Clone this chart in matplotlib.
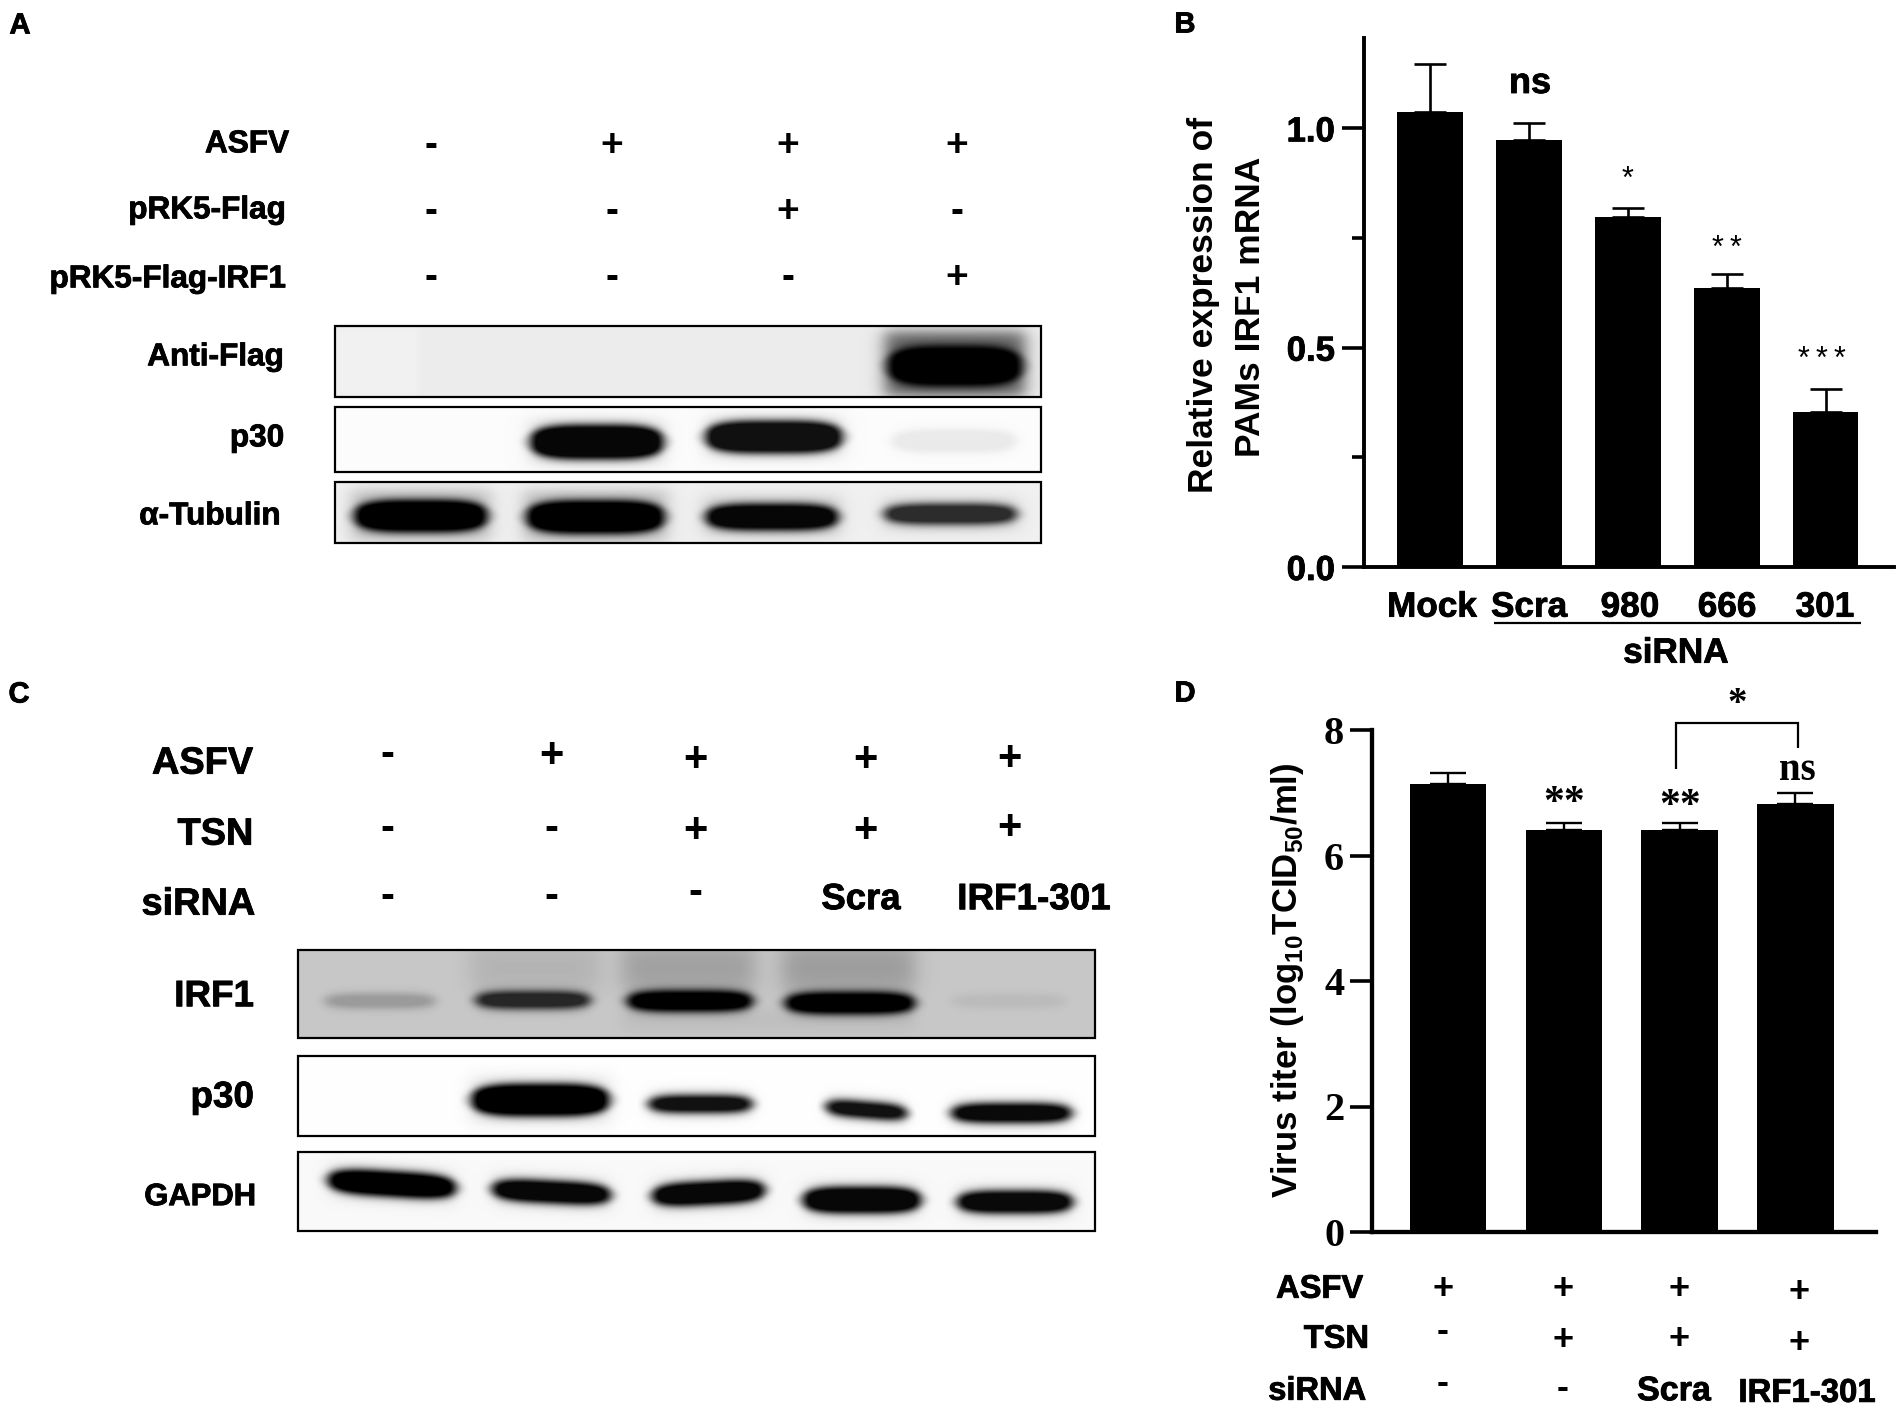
import numpy as np
import matplotlib
matplotlib.use("Agg")
import matplotlib.pyplot as plt
import matplotlib.patheffects as pe
from matplotlib.patches import Rectangle

SANS = "Liberation Sans"
SERIF = "Liberation Serif"
plt.rcParams["font.family"] = [SANS, "DejaVu Sans"]
plt.rcParams["mathtext.fontset"] = "custom"
plt.rcParams["mathtext.bf"] = "Liberation Sans:bold"
plt.rcParams["mathtext.rm"] = "Liberation Sans:bold"

# ---- panel B data
b_labels = ["Mock", "Scra", "980", "666", "301"]
b_values = [1.037, 0.974, 0.798, 0.635, 0.353]
b_err = [0.110, 0.039, 0.020, 0.033, 0.053]
b_sig = ["", "ns", "*", "**", "***"]
b_yticks = [0.0, 0.5, 1.0]
b_minor = [0.25, 0.75]

# ---- panel D data
d_values = [7.14, 6.40, 6.40, 6.82]
d_err = [0.17, 0.11, 0.11, 0.17]
d_yticks = [0, 2, 4, 6, 8]
d_sig = ["", "**", "**", "ns"]

# ---- treatment tables
a_rows = ["ASFV", "pRK5-Flag", "pRK5-Flag-IRF1"]
a_asfv = ["-", "+", "+", "+"]
a_flag = ["-", "-", "+", "-"]
a_irf1 = ["-", "-", "-", "+"]
c_rows = ["ASFV", "TSN", "siRNA"]
c_asfv = ["-", "+", "+", "+", "+"]
c_tsn = ["-", "-", "+", "+", "+"]
c_sirna = ["-", "-", "-", "Scra", "IRF1-301"]
d_rows = ["ASFV", "TSN", "siRNA"]
d_asfv = ["+", "+", "+", "+"]
d_tsn = ["-", "+", "+", "+"]
d_sirna = ["-", "-", "Scra", "IRF1-301"]

# ---- blot band densities per lane (0 = no band, 1 = saturated)
a_flag_density = [0.0, 0.0, 1.0]
a_p30_density = [0.97, 0.93, 0.07]
a_tub_density = [1.0, 1.0, 0.97, 0.80]
c_irf1_density = [0.22, 0.80, 1.0, 1.0, 0.06]
c_p30_density = [1.0, 0.93, 0.93, 0.96]
c_gapdh_density = [1.0, 0.97, 0.97, 0.97, 0.96]

W, H = 1904, 1408
fig = plt.figure(figsize=(W / 100, H / 100), dpi=100, facecolor="white")
HEAVY = [pe.withStroke(linewidth=0.6, foreground="black")]


def px_axes(x0, x1, ytop, ybot, **kw):
    return fig.add_axes([x0 / W, 1 - ybot / H, (x1 - x0) / W, (ybot - ytop) / H], **kw)


ov = px_axes(0, W, 0, H, zorder=5)
ov.patch.set_visible(False)
ov.axis("off")


def T(x, y, s, pt, ha="center", family=SANS, weight="bold", rot=0, color="black"):
    if rot:
        ov.text(x, y, s, fontsize=pt, ha="center", va="center", rotation=90,
                family=family, weight=weight, color=color)
    else:
        t = ov.text(x, y + 0.36 * pt / 0.72, s, fontsize=pt, ha=ha, va="baseline",
                    family=family, weight=weight, color=color)
        if family == SANS:
            t.set_path_effects(HEAVY)


def sign(x, y, s, pt=28):
    off = 0.34 if s == "+" else 0.27
    ov.text(x, y + off * pt / 0.72, s, fontsize=pt, ha="center", va="baseline",
            family=SANS, weight="bold", color="black")


def box(v, a, b, soft):
    return 0.5 * (np.tanh((v - a) / soft) - np.tanh((v - b) / soft))


def blot(x0, x1, y0, y1, bg, bands, extra=()):
    """bands: (density, xa, xb, yc, height, slope, halo_dark, halo_up, halo_down)"""
    xs = np.arange(x0, x1, 1.0) + 0.5
    ys = np.arange(y0, y1, 1.0) + 0.5
    X, Y = np.meshgrid(xs, ys)
    keep = np.ones_like(X)
    for (xa, xb, ya, yb, dk, s) in extra:
        keep *= 1 - dk * box(X, xa, xb, s) * box(Y, ya, yb, s)
    for (d, xa, xb, yc, h, slope, hd, hu, hdn) in bands:
        if d <= 0:
            continue
        xc = 0.5 * (xa + xb)
        half = 0.5 * (xb - xa)
        Yc = yc + slope * (X - xc)
        bx = box(X, xa, xb, 8)
        # band gets thinner towards its ends
        hh = (h + 4) * (1 - 0.45 * np.clip(np.abs(X - xc) / half, 0, 1.3) ** 4)
        if hd > 0:
            keep *= 1 - hd * box(X, xa - 4, xb + 4, 10) * box(Y - Yc, -h / 2 - hu, h / 2 + hdn, 8)
        core = np.clip(1.3 * box(Y - Yc, -hh / 2, hh / 2, 5) * bx, 0, 1)
        keep *= 1 - d * core
    img = np.clip(bg * keep, 0, 1)
    ov.imshow(img, extent=(x0, x1, y1, y0), cmap="gray", vmin=0, vmax=1,
              aspect="auto", interpolation="bilinear", zorder=1)
    ov.add_patch(Rectangle((x0, y0), x1 - x0, y1 - y0, fill=False, ec="black", lw=1.6, zorder=2))


# ---------------- Panel A ----------------
T(20, 23, "A", 21)
a_col = [431, 612, 788, 957]
for row, yr, vals, ys in [("ASFV", 141, a_asfv, [145, 143, 143, 143]),
                          ("pRK5-Flag", 207, a_flag, [211, 211, 209, 211]),
                          ("pRK5-Flag-IRF1", 276, a_irf1, [278, 278, 277, 275])]:
    T(289 if row == "ASFV" else 286, yr, row, 22.7, ha="right")
    for c, v, y in zip(a_col, vals, ys):
        sign(c, y, v)
for lab, y, xr in [("Anti-Flag", 354, 284), ("p30", 435, 284), ("α-Tubulin", 513, 281)]:
    T(xr, y, lab, 22.7, ha="right")

blot(335, 1041, 326, 397, 0.925,
     [(a_flag_density[2], 889, 1021, 366, 36, 0, 0.6, 16, 12)],
     extra=[(338, 418, 328, 396, -0.02, 3)])
blot(335, 1041, 407, 472, 0.985,
     [(a_p30_density[0], 531, 663, 442, 30, 0, 0.08, 8, 8),
      (a_p30_density[1], 706, 842, 437, 28, 0, 0.06, 8, 8),
      (a_p30_density[2], 892, 1016, 441, 18, 0, 0, 0, 0)])
blot(335, 1041, 482, 543, 0.94,
     [(a_tub_density[0], 355, 487, 516, 28, 0, 0.2, 12, 10),
      (a_tub_density[1], 527, 664, 517, 29, 0, 0.2, 12, 10),
      (a_tub_density[2], 706, 838, 517, 22, 0, 0.12, 10, 8),
      (a_tub_density[3], 884, 1017, 514, 16, 0, 0.08, 8, 8)])

# ---------------- Panel B ----------------
T(1185, 22, "B", 21)
axb = px_axes(1364, 1894, 38, 567)
b_x = np.arange(len(b_values))
axb.bar(b_x, b_values, width=0.665, color="black")
axb.errorbar(b_x, b_values, yerr=[np.zeros(len(b_err)), b_err], fmt="none", ecolor="black",
             elinewidth=1.9, capsize=11.8, capthick=1.9)
axb.set_xlim(-0.671, 4.693)
axb.set_ylim(0, 1.206)
axb.set_xticks([])
axb.set_yticks(b_yticks)
axb.set_yticklabels(["%.1f" % v for v in b_yticks], fontsize=25, fontweight="bold", family=SANS,
                    path_effects=HEAVY)
axb.set_yticks(b_minor, minor=True)
axb.tick_params(axis="y", which="major", length=16, width=2.6, pad=5)
axb.tick_params(axis="y", which="minor", length=9, width=2.6)
for s in ("top", "right"):
    axb.spines[s].set_visible(False)
for s in ("left", "bottom"):
    axb.spines[s].set_linewidth(2.8)
axb.patch.set_visible(False)

T(1204, 305, "Relative expression of", 25.5, rot=1)
T(1250, 307, "PAMs IRF1 mRNA", 25.5, rot=1)
for x, lab in zip([1432, 1529, 1630, 1727, 1825], b_labels):
    T(x, 604, lab, 25.3)
ov.plot([1494, 1861], [623, 623], color="black", lw=1.6, solid_capstyle="butt")
T(1676, 650, "siRNA", 25.3)
T(1530, 80, b_sig[1], 26)
for x, y, s in [(1628, 180, b_sig[2]), (1727, 249, b_sig[3]), (1822, 360, b_sig[4])]:
    ov.text(x, y, "\u2009".join(s) if len(s) > 1 else s, fontsize=22, ha="center", va="center",
            family=[SANS, "DejaVu Sans"], weight="normal", color="black")

# ---------------- Panel C ----------------
T(19, 692, "C", 21)
c_col = [387, 551, 695, 865, 1009]
c_asfv_y = [755, 753, 757, 757, 756]
c_tsn_y = [829, 829, 828, 828, 825]
c_si_y = [897, 897, 893, 896, 896]
T(253, 760, c_rows[0], 27.3, ha="right")
T(253, 831, c_rows[1], 27.3, ha="right")
T(255, 901, c_rows[2], 27.3, ha="right")
for i, c in enumerate(c_col):
    sign(c, c_asfv_y[i], c_asfv[i], 30)
    sign(c, c_tsn_y[i], c_tsn[i], 30)
    if c_sirna[i] in "+-":
        sign(c, c_si_y[i], c_sirna[i], 30)
T(861, 896, c_sirna[3], 26.3)
T(1034, 896, c_sirna[4], 26.5)
T(254, 993, "IRF1", 26.5, ha="right")
T(254, 1094, "p30", 26.5, ha="right")
T(256, 1194, "GAPDH", 22.3, ha="right")

blot(298, 1095, 950, 1038, 0.78,
     [(c_irf1_density[0], 324, 436, 1001, 10, 0, 0, 0, 0),
      (c_irf1_density[1], 475, 591, 1000, 13, 0, 0, 0, 0),
      (c_irf1_density[2], 627, 753, 1001, 17, 0, 0, 0, 0),
      (c_irf1_density[3], 785, 915, 1003, 18, 0, 0, 0, 0),
      (c_irf1_density[4], 951, 1066, 1001, 9, 0, 0, 0, 0)],
     extra=[(470, 600, 945, 990, 0.10, 12), (622, 755, 945, 990, 0.20, 12),
            (782, 915, 945, 990, 0.22, 12), (622, 915, 1010, 1030, 0.05, 8)])
blot(298, 1095, 1056, 1136, 0.995,
     [(c_p30_density[0], 472, 609, 1100, 28, 0.0, 0.06, 12, 12),
      (c_p30_density[1], 648, 753, 1104, 13, 0.0, 0.03, 8, 8),
      (c_p30_density[2], 825, 908, 1110, 12, 0.08, 0.02, 8, 8),
      (c_p30_density[3], 951, 1072, 1113, 15, 0.0, 0.03, 8, 8)])
blot(298, 1095, 1152, 1231, 0.975,
     [(c_gapdh_density[0], 328, 456, 1184, 21, 0.06, 0.03, 10, 10),
      (c_gapdh_density[1], 492, 611, 1192, 18, 0.05, 0.03, 10, 10),
      (c_gapdh_density[2], 652, 765, 1193, 19, -0.05, 0.03, 10, 10),
      (c_gapdh_density[3], 803, 921, 1200, 22, 0.0, 0.03, 10, 10),
      (c_gapdh_density[4], 957, 1073, 1202, 18, 0.0, 0.03, 10, 10)])

# ---------------- Panel D ----------------
T(1185, 691, "D", 21)
axd = px_axes(1372, 1876, 730, 1232)
d_x = np.arange(len(d_values))
axd.bar(d_x, d_values, width=0.66, color="black")
axd.errorbar(d_x, d_values, yerr=[np.zeros(len(d_err)), d_err], fmt="none", ecolor="black",
             elinewidth=1.7, capsize=13, capthick=1.7)
axd.set_xlim(-0.659, 3.697)
axd.set_ylim(0, 8)
axd.set_xticks([])
axd.set_yticks(d_yticks)
axd.set_yticklabels([str(v) for v in d_yticks], fontsize=29, fontweight="bold", family=SERIF)
axd.tick_params(axis="y", which="major", length=16, width=2.6, pad=4)
for s in ("top", "right"):
    axd.spines[s].set_visible(False)
for s in ("left", "bottom"):
    axd.spines[s].set_linewidth(3.1)
axd.patch.set_visible(False)

T(1287, 980, r"Virus titer (log$_{\mathbf{10}}$TCID$_{\mathbf{50}}$/ml)", 25, rot=1)
ov.plot([1676, 1676, 1798, 1798], [769, 723, 723, 748], color="black", lw=1.6,
        solid_joinstyle="miter", solid_capstyle="butt")
T(1737, 700, "*", 28, family=SERIF)
T(1797, 766, d_sig[3], 28, family=SERIF)
for x, y, s in [(1564, 799, d_sig[1]), (1680, 802, d_sig[2])]:
    T(x, y, s, 30, family=SERIF)

T(1363, 1286, d_rows[0], 23.5, ha="right")
T(1369, 1336, d_rows[1], 23.5, ha="right")
T(1366, 1388, d_rows[2], 23.5, ha="right")
d_col = [1443, 1563, 1679, 1799]
d_as_y = [1287, 1287, 1287, 1290]
d_ts_y = [1331, 1338, 1337, 1341]
d_si_y = [1383, 1388]
for i, c in enumerate(d_col):
    sign(c, d_as_y[i], d_asfv[i], 26)
    sign(c, d_ts_y[i], d_tsn[i], 26)
sign(d_col[0], d_si_y[0], d_sirna[0], 26)
sign(d_col[1], d_si_y[1], d_sirna[1], 26)
T(1674, 1388, d_sirna[2], 24.5)
T(1807, 1390, d_sirna[3], 23.7)

ov.set_xlim(0, W)
ov.set_ylim(H, 0)
fig.savefig("out.png", dpi=100, facecolor="white")
